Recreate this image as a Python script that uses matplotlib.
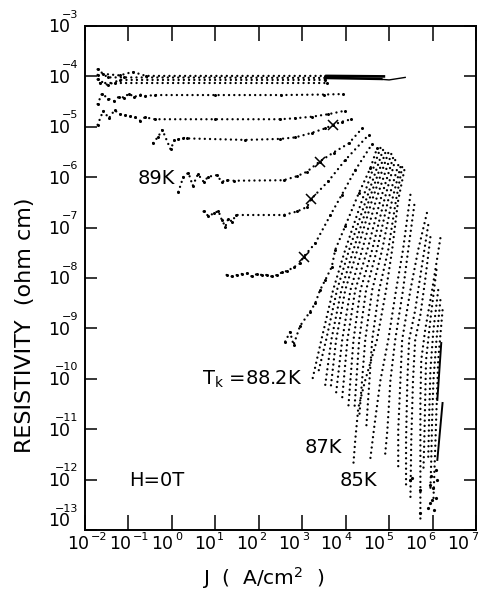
import numpy as np
import matplotlib
matplotlib.use("Agg")
import matplotlib.pyplot as plt
from matplotlib.ticker import FixedLocator, NullLocator, NullFormatter
from matplotlib.transforms import blended_transform_factory, ScaledTranslation

# ---- axis decades ----
x_decades = list(range(-2, 8))
y_decades = list(range(-13, -2))

# ---- isotherms: log10 J (A/cm^2) and log10 rho (ohm cm) ----
band_1_logj = [-1.71, -1.58, -1.20, -0.90, -0.60, 3.53]
band_1_logr = [-3.97, -3.95, -3.98, -3.91, -3.99, -3.99]
band_2_logj = [-1.71, -1.48, -1.10, 3.53]
band_2_logr = [-3.86, -4.02, -4.02, -4.03]
band_3_logj = [-1.71, -1.48, -1.20, 3.53]
band_3_logr = [-4.06, -4.17, -4.07, -4.07]
band_4_logj = [-1.65, -1.30, 3.58]
band_4_logr = [-4.13, -4.13, -4.13]
# high-current end of the upper isotherms (dense points merge into a line)
band_end_1_logj = [3.53, 4.91]
band_end_1_logr = [-3.99, -4.00]
band_end_2_logj = [3.53, 4.85]
band_end_2_logr = [-4.03, -4.05]
band_tail_logj = [4.85, 5.00, 5.37]
band_tail_logr = [-4.06, -4.07, -4.02]

curve_b_logj = [-1.71, -1.61, -1.47, -1.33, -1.22, -1.10, -0.99, -0.87, -0.73, -0.62,
                -0.40, 1.00, 2.50, 3.50, 3.94]
curve_b_logr = [-4.55, -4.34, -4.44, -4.49, -4.40, -4.42, -4.34, -4.41, -4.36, -4.39,
                -4.37, -4.37, -4.37, -4.36, -4.35]

curve_c_logj = [-1.71, -1.58, -1.45, -1.32, -1.19, -1.08, -0.96, -0.85, -0.73, -0.62,
                -0.40, 1.00, 2.49, 2.84, 3.22, 3.60, 3.99]
curve_c_logr = [-4.96, -4.68, -4.83, -4.67, -4.75, -4.77, -4.79, -4.81, -4.88, -4.81,
                -4.85, -4.85, -4.85, -4.83, -4.80, -4.75, -4.68]

curve_d_logj = [-0.43, -0.32, -0.22, -0.03, 0.06, 0.15, 0.26, 0.34, 1.69, 2.49, 2.84,
                3.22, 3.53, 3.71, 3.91, 4.13]
curve_d_logr = [-5.32, -5.20, -5.06, -5.45, -5.26, -5.25, -5.22, -5.23, -5.26, -5.24, -5.21,
                -5.12, -5.03, -4.96, -4.90, -4.85]

curve_89k_logj = [0.15, 0.26, 0.38, 0.48, 0.60, 0.73, 0.84, 1.03, 1.15, 1.26, 1.42, 2.57,
                  2.88, 3.11, 3.40, 3.72, 4.07, 4.38]
curve_89k_logr = [-6.29, -6.00, -5.91, -6.17, -5.94, -6.09, -5.99, -5.96, -6.09, -6.06, -6.07,
                  -6.06, -5.98, -5.89, -5.69, -5.51, -5.33, -5.03]

curve_f_logj = [0.73, 0.84, 0.96, 1.07, 1.15, 1.23, 1.30, 1.38, 1.48, 2.57, 2.88, 3.11,
                3.21, 3.60, 3.99, 4.53]
curve_f_logr = [-6.68, -6.77, -6.72, -6.67, -6.85, -6.98, -6.82, -6.88, -6.75, -6.75, -6.68,
                -6.59, -6.43, -6.08, -5.66, -5.16]

curve_g_logj = [1.26, 1.38, 1.50, 1.61, 1.73, 1.84, 1.96, 2.07, 2.19, 2.30, 2.42, 2.53,
                2.65, 2.80, 2.95, 3.03, 3.30, 3.65, 3.91, 4.22, 4.61]
curve_g_logr = [-7.94, -7.97, -7.94, -7.92, -7.91, -7.97, -7.92, -7.94, -7.94, -7.97, -7.94,
                -7.89, -7.86, -7.79, -7.71, -7.58, -7.31, -6.75, -6.35, -5.86, -5.34]

curve_h_logj = [2.61, 2.72, 2.80, 2.95, 3.18, 3.30, 3.41, 3.53, 3.68, 3.76, 3.99, 4.30,
                4.57, 4.72]
curve_h_logr = [-9.26, -9.07, -9.33, -8.95, -8.67, -8.50, -8.24, -8.04, -7.78, -7.44, -6.97,
                -6.32, -5.82, -5.43]

# steep isotherms, T_k = 88.2 K and below
curve_88_2k_logj = [4.80, 4.38, 3.99, 3.71, 3.44, 3.23]
curve_88_2k_logr = [-5.42, -6.45, -7.44, -8.24, -9.23, -10.03]
steep_2_logj = [4.86, 4.47, 4.08, 3.80, 3.55, 3.37]
steep_2_logr = [-5.46, -6.45, -7.44, -8.24, -9.23, -9.87]
steep_3_logj = [4.91, 4.54, 4.18, 3.90, 3.67, 3.53]
steep_3_logr = [-5.52, -6.45, -7.44, -8.24, -9.23, -10.12]
steep_4_logj = [4.98, 4.61, 4.27, 3.99, 3.78, 3.65]
steep_4_logr = [-5.52, -6.45, -7.44, -8.24, -9.23, -10.22]
steep_5_logj = [5.05, 4.70, 4.38, 4.11, 3.92, 3.78]
steep_5_logr = [-5.54, -6.45, -7.44, -8.24, -9.23, -10.28]
steep_6_logj = [5.09, 4.80, 4.50, 4.22, 4.04, 3.92]
steep_6_logr = [-5.62, -6.45, -7.44, -8.24, -9.23, -10.38]
steep_7_logj = [5.14, 4.89, 4.61, 4.34, 4.18, 4.06]
steep_7_logr = [-5.66, -6.45, -7.44, -8.24, -9.23, -10.58]
steep_8_logj = [5.21, 4.98, 4.72, 4.47, 4.31, 4.20]
steep_8_logr = [-5.76, -6.45, -7.44, -8.24, -9.23, -10.62]
steep_9_logj = [5.26, 5.07, 4.84, 4.61, 4.45, 4.31]
steep_9_logr = [-5.80, -6.45, -7.44, -8.24, -9.23, -10.78]
steep_10_logj = [5.30, 5.16, 4.98, 4.77, 4.61, 4.47]
steep_10_logr = [-5.80, -6.45, -7.44, -8.24, -9.23, -11.02]

curve_87k_logj = [5.35, 5.21, 5.07, 4.93, 4.72, 4.45, 4.29, 4.22, 4.18]
curve_87k_logr = [-5.86, -6.45, -7.44, -8.24, -9.23, -10.03, -10.58, -11.22, -11.67]
low_2_logj = [5.49, 5.32, 5.16, 4.98, 4.80, 4.66, 4.57]
low_2_logr = [-6.35, -7.44, -8.24, -9.23, -10.03, -10.94, -11.57]
low_3_logj = [5.58, 5.44, 5.32, 5.14, 5.03, 4.96, 4.91]
low_3_logr = [-6.55, -7.44, -8.24, -9.23, -10.03, -11.02, -11.49]
low_4_logj = [5.87, 5.67, 5.49, 5.30, 5.26, 5.21, 5.21]
low_4_logr = [-6.71, -7.44, -8.24, -9.23, -10.03, -11.02, -11.77]
curve_85k_logj = [5.90, 5.74, 5.60, 5.46, 5.42, 5.39, 5.39]
curve_85k_logr = [-6.95, -7.84, -8.64, -9.23, -10.03, -11.22, -12.17]
low_6_logj = [5.95, 5.83, 5.72, 5.60, 5.55, 5.51, 5.49]
low_6_logr = [-7.19, -8.04, -8.73, -9.23, -10.03, -11.22, -12.41]
low_7_logj = [6.18, 5.99, 5.83, 5.74, 5.72, 5.72, 5.72]
low_7_logr = [-7.21, -8.24, -9.03, -9.63, -10.42, -11.61, -12.86]
low_8_logj = [6.09, 5.95, 5.85, 5.83, 5.81, 5.79]
low_8_logr = [-7.84, -8.83, -9.63, -10.42, -11.22, -11.81]
low_9_logj = [6.13, 6.02, 5.95, 5.92, 5.90]
low_9_logr = [-8.24, -9.03, -9.83, -10.82, -11.61]
low_10_logj = [6.18, 6.09, 6.02, 5.99, 5.97, 5.95]
low_10_logr = [-8.44, -9.23, -10.03, -10.82, -11.61, -12.21]
low_11_logj = [6.23, 6.13, 6.09, 6.06, 6.02]
low_11_logr = [-8.64, -9.63, -10.62, -11.41, -12.41]

# coldest runs: densely sampled, drawn solid
solid_1_logj = [6.20, 6.11]
solid_1_logr = [-9.29, -10.42]
solid_2_logj = [6.23, 6.11]
solid_2_logr = [-10.48, -11.61]

# isolated low-resistivity points
tail_logj = [5.49, 5.53, 5.72, 5.72, 5.95, 6.02, 5.99, 5.95, 6.09, 6.04, 5.90, 6.09, 6.11, 5.97]
tail_logr = [-12.01, -11.97, -12.66, -12.21, -12.11, -12.17, -12.41, -12.47, -12.37, -12.60,
             -12.57, -11.81, -12.01, -11.93]

# crossover points marked with a cross
cross_logj = [3.71, 3.40, 3.21, 3.03]
cross_logr = [-4.96, -5.69, -6.43, -7.58]

# flat isotherms: every measured point is also marked
flat_curves = [
    (band_1_logj, band_1_logr), (band_2_logj, band_2_logr),
    (band_3_logj, band_3_logr), (band_4_logj, band_4_logr),
    (curve_b_logj, curve_b_logr), (curve_c_logj, curve_c_logr),
    (curve_d_logj, curve_d_logr), (curve_89k_logj, curve_89k_logr),
    (curve_f_logj, curve_f_logr), (curve_g_logj, curve_g_logr),
    (curve_h_logj, curve_h_logr),
]
steep_curves = [
    (curve_88_2k_logj, curve_88_2k_logr),
    (steep_2_logj, steep_2_logr), (steep_3_logj, steep_3_logr),
    (steep_4_logj, steep_4_logr), (steep_5_logj, steep_5_logr),
    (steep_6_logj, steep_6_logr), (steep_7_logj, steep_7_logr),
    (steep_8_logj, steep_8_logr), (steep_9_logj, steep_9_logr),
    (steep_10_logj, steep_10_logr), (curve_87k_logj, curve_87k_logr),
    (low_2_logj, low_2_logr), (low_3_logj, low_3_logr),
    (low_4_logj, low_4_logr), (curve_85k_logj, curve_85k_logr),
    (low_6_logj, low_6_logr), (low_7_logj, low_7_logr),
    (low_8_logj, low_8_logr), (low_9_logj, low_9_logr),
    (low_10_logj, low_10_logr), (low_11_logj, low_11_logr),
]

plt.rcParams['font.family'] = ['DejaVu Sans']
plt.rcParams['mathtext.default'] = 'regular'

fig = plt.figure(figsize=(4.8, 5.92), dpi=100)
ax = fig.add_axes([85 / 480, 1 - 530 / 592, 391 / 480, 504 / 592])

dot_line = dict(color='black', lw=1.7, linestyle=(0, (0.01, 2.2)), dash_capstyle='round')
for lj, lr in flat_curves:
    ax.plot(10 ** np.array(lj), 10 ** np.array(lr), marker='o', ms=2.2, mew=0, **dot_line)
for lj, lr in steep_curves:
    ax.plot(10 ** np.array(lj), 10 ** np.array(lr), **dot_line)

for lj, lr in [(band_end_1_logj, band_end_1_logr), (band_end_2_logj, band_end_2_logr)]:
    ax.plot(10 ** np.array(lj), 10 ** np.array(lr), color='black', lw=1.9,
            solid_capstyle='butt')
ax.plot(10 ** np.array(band_tail_logj), 10 ** np.array(band_tail_logr), color='black', lw=1.0)
for lj, lr in [(solid_1_logj, solid_1_logr), (solid_2_logj, solid_2_logr)]:
    ax.plot(10 ** np.array(lj), 10 ** np.array(lr), color='black', lw=1.4)

ax.plot(10 ** np.array(tail_logj), 10 ** np.array(tail_logr), 'o', color='black', ms=2.3, mew=0)
ax.plot(10 ** np.array(cross_logj), 10 ** np.array(cross_logr), 'x', color='black',
        ms=7, mew=1.1)

ax.set_xscale('log')
ax.set_yscale('log')
ax.set_xlim(10.0 ** x_decades[0], 10.0 ** x_decades[-1])
ax.set_ylim(10.0 ** y_decades[0], 10.0 ** y_decades[-1])

ax.xaxis.set_major_locator(FixedLocator([10.0 ** k for k in x_decades]))
ax.yaxis.set_major_locator(FixedLocator([10.0 ** k for k in y_decades]))
ax.xaxis.set_minor_locator(NullLocator())
ax.yaxis.set_minor_locator(NullLocator())
ax.xaxis.set_major_formatter(NullFormatter())
ax.yaxis.set_major_formatter(NullFormatter())

ax.tick_params(axis='both', which='major', direction='in', top=True, right=True,
               width=1.1, colors='black')
ax.tick_params(axis='x', length=11)
ax.tick_params(axis='y', length=8.5)
for s in ax.spines.values():
    s.set_linewidth(1.4)

# decade labels in the plotter style: "10" with a small exponent beside it
PX = 0.72  # points per pixel at 100 dpi
base_fs, exp_fs = 12.5, 8.0


def offset(dx_px, dy_px):
    return ScaledTranslation(dx_px * PX / 72, dy_px * PX / 72, fig.dpi_scale_trans)


ytrans = blended_transform_factory(ax.transAxes, ax.transData)
for k in y_decades:
    lift = 10 if k == y_decades[0] else 0
    ax.text(0, 10.0 ** k, '10', transform=ytrans + offset(-15, -6.5 + lift),
            ha='right', va='baseline', fontsize=base_fs, clip_on=False)
    ax.text(0, 10.0 ** k, '\u2212%d' % abs(k), transform=ytrans + offset(-7, 8.4 + lift),
            ha='right', va='baseline', fontsize=exp_fs, clip_on=False)

xtrans = blended_transform_factory(ax.transData, ax.transAxes)
for i, k in enumerate(x_decades):
    drift = -1.2 * i
    ax.text(10.0 ** k, 0, '10', transform=xtrans + offset(drift + 4, -19),
            ha='right', va='baseline', fontsize=base_fs, clip_on=False)
    exp_text = ('\u2212%d' % abs(k)) if k < 0 else '%d' % k
    ax.text(10.0 ** k, 0, exp_text, transform=xtrans + offset(drift + 5.5, -10),
            ha='left', va='baseline', fontsize=exp_fs, clip_on=False)

ax.set_ylabel('RESISTIVITY  (ohm cm)', fontsize=16)
ax.yaxis.label.set_va('center')
ax.yaxis.set_label_coords(-0.153, 0.407)
ax.set_xlabel(r'J  (  A/cm$^{2}$  )', fontsize=14.5)
ax.xaxis.label.set_va('center')
ax.xaxis.set_label_coords(0.455, -0.095)

lab = dict(transform=ax.transAxes, fontsize=14, va='center')
ax.text(0.230, 0.698, '89K', ha='right', **lab)
ax.text(0.555, 0.298, r'T$_k$ =88.2K', ha='right', **lab)
ax.text(0.657, 0.164, '87K', ha='right', **lab)
ax.text(0.747, 0.098, '85K', ha='right', **lab)
ax.text(0.113, 0.098, 'H=0T', ha='left', **lab)

fig.savefig('out.png', dpi=100)
